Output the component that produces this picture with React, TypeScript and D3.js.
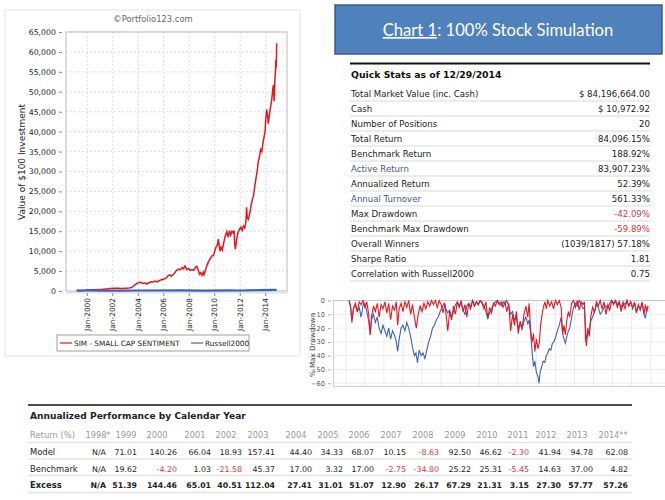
import { useEffect, useRef } from 'react';
import * as d3 from 'd3';

// growth of $100 – SIM - SMALL CAP SENTIMENT  [year, value]
const simSeries: [number, number][] = [
  [1999.17, 100], [1999.5, 130], [1999.8, 180], [2000.0, 230], [2000.3, 300], [2000.6, 320],
  [2000.9, 380], [2001.2, 420], [2001.5, 520], [2001.8, 620], [2002.1, 680], [2002.4, 720],
  [2002.7, 650], [2003.0, 700], [2003.3, 760], [2003.5, 900], [2003.7, 1400], [2003.9, 1900],
  [2004.0, 2100], [2004.2, 2200], [2004.35, 1900], [2004.5, 2050], [2004.66, 1750], [2004.8, 2000],
  [2005.0, 2300], [2005.18, 2250], [2005.3, 2500], [2005.5, 2300], [2005.7, 2700], [2005.97, 2950],
  [2006.2, 3300], [2006.35, 3900], [2006.5, 4000], [2006.6, 3700], [2006.8, 4300], [2007.0, 5200],
  [2007.15, 5500], [2007.3, 5300], [2007.45, 5900], [2007.55, 5600], [2007.67, 6300], [2007.8, 5400],
  [2007.95, 5600], [2008.06, 5200], [2008.2, 5400], [2008.35, 5200], [2008.5, 6000], [2008.6, 6200],
  [2008.7, 5300], [2008.8, 4200], [2008.9, 4600], [2009.0, 3900], [2009.1, 4700], [2009.16, 4100],
  [2009.3, 5500], [2009.4, 6500], [2009.5, 7300], [2009.6, 7800], [2009.75, 8700], [2009.9, 9000],
  [2010.0, 10000], [2010.1, 11000], [2010.2, 11500], [2010.28, 13000], [2010.35, 11500], [2010.42, 10000],
  [2010.5, 11000], [2010.6, 10300], [2010.7, 12000], [2010.8, 13500], [2010.94, 14900], [2011.05, 13500],
  [2011.15, 15100], [2011.25, 14000], [2011.35, 15000], [2011.46, 14600], [2011.52, 15200], [2011.57, 11500],
  [2011.62, 10500], [2011.7, 12500], [2011.78, 14000], [2011.85, 14900], [2011.95, 15500], [2012.05, 16000],
  [2012.15, 15200], [2012.25, 16300], [2012.35, 15800], [2012.45, 17500], [2012.5, 21000], [2012.55, 18500],
  [2012.64, 18000], [2012.75, 19500], [2012.85, 21500], [2012.95, 23000], [2013.05, 24000], [2013.15, 26500],
  [2013.25, 28500], [2013.35, 30500], [2013.42, 32500], [2013.5, 33500], [2013.6, 35500], [2013.69, 35000],
  [2013.8, 37500], [2013.95, 40000], [2014.0, 43000], [2014.08, 45500], [2014.15, 44000], [2014.2, 42000],
  [2014.3, 44500], [2014.4, 46500], [2014.47, 48000], [2014.55, 50500], [2014.6, 51700], [2014.66, 47600],
  [2014.72, 53000], [2014.77, 55500], [2014.8, 58000], [2014.83, 56000], [2014.86, 62200],
];

// growth of $100 – Russell2000
const benchSeries: [number, number][] = [
  [1999.17, 100], [2000.2, 125], [2001.0, 110], [2002.8, 70], [2004.0, 120], [2007.5, 150],
  [2009.2, 70], [2011.0, 140], [2012.0, 130], [2013.5, 210], [2014.86, 290],
];

// % max drawdown – model
const modelDD: [number, number][] = [
  [1999.17, 0], [1999.25, -4], [1999.32, -16], [1999.4, -6], [1999.5, -2], [1999.6, -8], [1999.7, -1],
  [1999.8, -3], [1999.9, 0], [2000.0, -5], [2000.1, -1], [2000.2, -10], [2000.28, -25], [2000.35, -12],
  [2000.45, -4], [2000.55, -8], [2000.65, -2], [2000.75, -12], [2000.85, -3], [2000.95, -6], [2001.05, -1],
  [2001.15, -9], [2001.25, -2], [2001.35, -14], [2001.45, -4], [2001.55, -7], [2001.65, -1], [2001.72, -18],
  [2001.8, -6], [2001.9, -2], [2002.0, -8], [2002.1, -1], [2002.2, -5], [2002.3, 0], [2002.4, -10],
  [2002.5, -3], [2002.6, -12], [2002.7, -20], [2002.8, -10], [2002.9, -4], [2003.0, -8], [2003.1, -2],
  [2003.2, -6], [2003.3, -1], [2003.4, -4], [2003.5, 0], [2003.6, -3], [2003.7, 0], [2003.8, -5],
  [2003.9, 0], [2004.0, -3], [2004.1, -9], [2004.2, -2], [2004.35, -22], [2004.45, -8], [2004.55, -14],
  [2004.65, -4], [2004.75, -10], [2004.85, -1], [2004.95, -5], [2005.05, 0], [2005.15, -8], [2005.25, -3],
  [2005.35, -12], [2005.45, -2], [2005.55, -6], [2005.65, 0], [2005.75, -4], [2005.85, -1], [2005.95, -3],
  [2006.05, 0], [2006.15, -2], [2006.25, -6], [2006.35, -1], [2006.45, -13], [2006.55, -5], [2006.65, -9],
  [2006.75, -2], [2006.85, -4], [2006.95, 0], [2007.05, -3], [2007.15, -1], [2007.25, -5], [2007.35, -1],
  [2007.45, -8], [2007.55, -2], [2007.65, -22], [2007.75, -10], [2007.85, -18], [2007.95, -8], [2008.05, -24],
  [2008.15, -15], [2008.25, -20], [2008.35, -10], [2008.45, -4], [2008.55, -12], [2008.62, -2], [2008.7, -22],
  [2008.78, -30], [2008.85, -24], [2008.92, -37], [2009.0, -28], [2009.08, -35], [2009.16, -30], [2009.22, -18],
  [2009.3, -10], [2009.38, -4], [2009.45, -1], [2009.52, -6], [2009.6, 0], [2009.7, -4], [2009.8, -1],
  [2009.9, -6], [2010.0, 0], [2010.1, -3], [2010.2, 0], [2010.3, -5], [2010.38, -24], [2010.45, -18],
  [2010.52, -25], [2010.6, -14], [2010.68, -8], [2010.75, -12], [2010.85, -2], [2010.95, 0], [2011.05, -5],
  [2011.15, 0], [2011.25, -7], [2011.35, -1], [2011.45, -3], [2011.52, -1], [2011.58, -28], [2011.63, -33],
  [2011.7, -20], [2011.78, -26], [2011.85, -12], [2011.95, -5], [2012.05, -9], [2012.15, -1], [2012.25, -4],
  [2012.35, 0], [2012.45, -6], [2012.55, -1], [2012.65, -10], [2012.75, -3], [2012.85, -7], [2012.95, 0],
  [2013.05, -3], [2013.15, 0], [2013.25, -5], [2013.35, -1], [2013.45, -8], [2013.55, -2], [2013.65, -6],
  [2013.75, 0], [2013.85, -4], [2013.95, -1], [2014.05, -6], [2014.15, -1], [2014.25, -9], [2014.35, -3],
  [2014.45, -7], [2014.55, -1], [2014.65, -10], [2014.72, -3], [2014.8, -8], [2014.86, -4],
];

// % max drawdown – benchmark
const benchDD: [number, number][] = [
  [1999.17, 0], [1999.25, -5], [1999.32, -14], [1999.4, -6], [1999.5, -3], [1999.6, -8], [1999.7, -5],
  [1999.8, -12], [1999.9, -4], [2000.0, -2], [2000.1, -8], [2000.2, -15], [2000.28, -24], [2000.35, -14],
  [2000.45, -10], [2000.55, -16], [2000.65, -12], [2000.75, -20], [2000.85, -24], [2000.95, -18], [2001.05, -22],
  [2001.15, -26], [2001.25, -20], [2001.35, -28], [2001.45, -22], [2001.55, -25], [2001.65, -30], [2001.72, -37],
  [2001.8, -28], [2001.9, -20], [2002.0, -18], [2002.1, -22], [2002.2, -16], [2002.3, -20], [2002.4, -26],
  [2002.5, -34], [2002.6, -40], [2002.68, -38], [2002.76, -45], [2002.85, -36], [2002.95, -40], [2003.05, -38],
  [2003.15, -42], [2003.25, -36], [2003.35, -30], [2003.45, -26], [2003.55, -20], [2003.65, -18], [2003.75, -14],
  [2003.85, -12], [2003.95, -8], [2004.05, -5], [2004.15, -2], [2004.25, -6], [2004.35, -9], [2004.45, -7],
  [2004.55, -12], [2004.65, -8], [2004.75, -3], [2004.85, -1], [2004.95, -4], [2005.05, -2], [2005.15, -7],
  [2005.25, -10], [2005.35, -4], [2005.45, -2], [2005.55, -5], [2005.65, 0], [2005.75, -4], [2005.85, -1],
  [2005.95, -3], [2006.05, 0], [2006.15, -1], [2006.25, -4], [2006.35, -8], [2006.45, -13], [2006.55, -9],
  [2006.65, -6], [2006.75, -3], [2006.85, -1], [2006.95, 0], [2007.05, -2], [2007.15, -4], [2007.25, -1],
  [2007.35, -3], [2007.45, 0], [2007.55, -4], [2007.65, -10], [2007.75, -8], [2007.85, -14], [2007.95, -12],
  [2008.05, -20], [2008.15, -17], [2008.25, -21], [2008.35, -15], [2008.45, -12], [2008.55, -17], [2008.62, -14],
  [2008.7, -24], [2008.78, -38], [2008.85, -48], [2008.92, -44], [2009.0, -52], [2009.08, -55], [2009.14, -60],
  [2009.2, -52], [2009.28, -48], [2009.36, -44], [2009.44, -45], [2009.52, -40], [2009.6, -38], [2009.68, -35],
  [2009.76, -36], [2009.84, -31], [2009.92, -30], [2010.0, -27], [2010.1, -22], [2010.2, -18], [2010.3, -12],
  [2010.38, -24], [2010.45, -28], [2010.52, -31], [2010.6, -26], [2010.68, -22], [2010.75, -20], [2010.85, -12],
  [2010.95, -5], [2011.05, -2], [2011.15, -4], [2011.25, 0], [2011.35, -3], [2011.45, -6], [2011.52, -5],
  [2011.58, -20], [2011.63, -28], [2011.7, -24], [2011.78, -22], [2011.85, -15], [2011.95, -12], [2012.05, -8],
  [2012.15, -3], [2012.25, -5], [2012.35, -10], [2012.45, -8], [2012.55, -5], [2012.65, -4], [2012.75, -6],
  [2012.85, -2], [2012.95, 0], [2013.05, -2], [2013.15, 0], [2013.25, -3], [2013.35, -1], [2013.45, -5],
  [2013.55, -1], [2013.65, -3], [2013.75, 0], [2013.85, -4], [2013.95, -1], [2014.05, -5], [2014.15, -2],
  [2014.25, -8], [2014.35, -4], [2014.45, -6], [2014.55, -2], [2014.65, -10], [2014.72, -13], [2014.8, -6],
  [2014.86, -4],
];

const xTickYears = [2000, 2002, 2004, 2006, 2008, 2010, 2012, 2014];

const statLabels = [
  'Total Market Value (inc. Cash)', 'Cash', 'Number of Positions', 'Total Return', 'Benchmark Return',
  'Active Return', 'Annualized Return', 'Annual Turnover', 'Max Drawdown', 'Benchmark Max Drawdown',
  'Overall Winners', 'Sharpe Ratio', 'Correlation with Russell2000',
];
const statValues = [
  '$ 84,196,664.00', '$ 10,972.92', '20', '84,096.15%', '188.92%', '83,907.23%', '52.39%', '561.33%',
  '-42.09%', '-59.89%', '(1039/1817) 57.18%', '1.81', '0.75',
];
const blueLabels = ['Active Return', 'Annual Turnover'];

const perfYears = ['1998*', '1999', '2000', '2001', '2002', '2003', '2004', '2005', '2006', '2007', '2008',
  '2009', '2010', '2011', '2012', '2013', '2014**'];
const modelReturns = [null, 71.01, 140.26, 66.04, 18.93, 157.41, 44.40, 34.33, 68.07, 10.15, -8.63, 92.50,
  46.62, -2.30, 41.94, 94.78, 62.08];
const benchReturns = [null, 19.62, -4.20, 1.03, -21.58, 45.37, 17.00, 3.32, 17.00, -2.75, -34.80, 25.22,
  25.31, -5.45, 14.63, 37.00, 4.82];
const excessReturns = [null, 51.39, 144.46, 65.01, 40.51, 112.04, 27.41, 31.01, 51.07, 12.90, 26.17, 67.29,
  21.31, 3.15, 27.30, 57.77, 57.26];

// table column layout (right edge of values, centre of headers)
const colRight = [106, 137, 177, 211, 242, 275, 312, 343, 374, 406, 439, 471, 502, 529, 561, 593, 628];
const colHead = [98, 126, 157, 195, 226, 258, 296, 328, 359, 391, 423, 455, 487, 518, 546, 577, 613];

const RED = '#e8161e';
const BLUE = '#3c62bd';
const NEG = '#d9363e';
const SANS = '"DejaVu Sans", Verdana, sans-serif';

export default function App() {
  const y1Ref = useRef<SVGGElement>(null);
  const y2Ref = useRef<SVGGElement>(null);

  const x1 = d3.scaleLinear().domain([1998.33, 2015.67]).range([66, 287]);
  const y1 = d3.scaleLinear().domain([0, 65000]).range([291, 32]);
  const x2 = d3.scaleLinear().domain([1998.38, 2015.75]).range([334, 665]);
  const y2 = d3.scaleLinear().domain([0, -62]).range([300.5, 386]);

  const line1 = d3.line<[number, number]>().x((d) => x1(d[0])).y((d) => y1(d[1]));
  const line2 = d3.line<[number, number]>().x((d) => x2(d[0])).y((d) => y2(d[1]));

  useEffect(() => {
    const g1 = d3.select(y1Ref.current);
    g1.selectAll('*').remove();
    g1.call(d3.axisLeft(y1).tickValues(d3.range(0, 65001, 5000)).tickFormat(d3.format(',')).tickSize(3));
    g1.select('.domain').remove();
    g1.selectAll('line').attr('stroke', '#888');
    g1.selectAll('text').attr('font-family', SANS).attr('font-size', 7.8).attr('fill', '#222');

    const g2 = d3.select(y2Ref.current);
    g2.selectAll('*').remove();
    g2.call(d3.axisLeft(y2).tickValues(d3.range(0, -61, -10)).tickSize(3));
    g2.select('.domain').remove();
    g2.selectAll('line').attr('stroke', '#aaa');
    g2.selectAll('text').attr('font-family', SANS).attr('font-size', 6.6).attr('fill', '#555');
  }, []);

  const fmt = (v: number | null) => (v === null ? 'N/A' : v.toFixed(2));

  return (
    <svg width={665} height={500} style={{ position: 'absolute', left: 0, top: 0, background: '#fff' }}>
      {/* left growth chart */}
      <rect x={5} y={10} width={295} height={346} fill="#fff" stroke="#e4e4e4" />
      <text x={153} y={22} textAnchor="middle" fontFamily={SANS} fontSize={8.4} fill="#666">
        ©Portfolio123.com
      </text>
      <g>
        {y1.ticks(13).map((t) => (
          <line key={'h' + t} x1={66} x2={287} y1={y1(t)} y2={y1(t)} stroke="#dcdcdc" strokeDasharray="2,2" />
        ))}
        {xTickYears.map((t) => (
          <line key={'v' + t} x1={x1(t)} x2={x1(t)} y1={32} y2={291} stroke="#dcdcdc" strokeDasharray="2,2" />
        ))}
      </g>
      <rect x={66} y={32} width={221} height={259} fill="none" stroke="#bcbcbc" />
      <line x1={66} x2={288} y1={292.5} y2={292.5} stroke="#e2e2e2" strokeWidth={2} />
      <path d={line1(simSeries) ?? ''} fill="none" stroke={RED} strokeWidth={1.5} />
      <path d={line1(benchSeries) ?? ''} fill="none" stroke={BLUE} strokeWidth={2.2} />
      <g ref={y1Ref} transform="translate(62,0)" />
      {xTickYears.map((t) => (
        <g key={'xl' + t}>
          <line x1={x1(t)} x2={x1(t)} y1={293} y2={296} stroke="#888" />
          <text
            transform={`translate(${x1(t) + 2.5},298) rotate(-90)`}
            textAnchor="end"
            fontFamily={SANS}
            fontSize={7.4}
            fill="#222"
          >
            {'Jan-' + t}
          </text>
        </g>
      ))}
      <text
        transform="translate(25,162) rotate(-90)"
        textAnchor="middle"
        fontFamily={SANS}
        fontSize={9}
        fill="#222"
      >
        Value of $100 Investment
      </text>
      <rect x={57} y={335} width={192} height={16} fill="#fff" stroke="#888" strokeWidth={0.8} />
      <line x1={60} x2={72} y1={343} y2={343} stroke={RED} strokeWidth={1.2} />
      <text x={74} y={346} fontFamily={SANS} fontSize={7.3} fill="#222">SIM - SMALL CAP SENTIMENT</text>
      <line x1={191} x2={203} y1={343} y2={343} stroke={BLUE} strokeWidth={1.2} />
      <text x={205} y={346} fontFamily={SANS} fontSize={7.3} fill="#222">Russell2000</text>

      {/* title box */}
      <rect x={335} y={5} width={327} height={49} fill="#4f81bd" stroke="#385d8a" strokeWidth={1.5} />
      <text x={498} y={36} textAnchor="middle" fontFamily="Lato, 'Open Sans', sans-serif" fontSize={16.6} fill="#fff">
        <tspan textDecoration="underline">Chart 1</tspan>: 100% Stock Simulation
      </text>

      {/* quick stats */}
      <line x1={350} x2={650} y1={63.5} y2={63.5} stroke="#111" strokeWidth={2} />
      <text x={351} y={78} fontFamily={SANS} fontWeight="bold" fontSize={9.3} fill="#111">
        Quick Stats as of 12/29/2014
      </text>
      {statLabels.map((lab, i) => {
        const yy = 97 + i * 15;
        const val = statValues[i];
        return (
          <g key={lab}>
            <line x1={350} x2={650} y1={yy + 4} y2={yy + 4} stroke="#e6e6e6" strokeWidth={1.5} />
            <text x={351} y={yy} fontFamily={SANS} fontSize={8.6} fill={blueLabels.includes(lab) ? '#4a5580' : '#222'}>
              {lab}
            </text>
            <text x={650} y={yy} textAnchor="end" fontFamily={SANS} fontSize={8.6} fill={val.startsWith('-') ? NEG : '#222'}>
              {val}
            </text>
          </g>
        );
      })}

      {/* drawdown chart */}
      <g>
        {y2.ticks(7).map((t) => (
          <line key={'dh' + t} x1={334} x2={665} y1={y2(t)} y2={y2(t)} stroke="#ececec" />
        ))}
        {d3.range(1999, 2016).map((t) => (
          <line key={'dv' + t} x1={x2(t)} x2={x2(t)} y1={300} y2={386} stroke="#ececec" />
        ))}
      </g>
      <line x1={334} x2={665} y1={300.5} y2={300.5} stroke="#c8c8c8" />
      <line x1={334} x2={665} y1={386.5} y2={386.5} stroke="#d0d0d0" />
      <line x1={333.5} x2={333.5} y1={300} y2={387} stroke="#d0d0d0" />
      <path d={line2(benchDD) ?? ''} fill="none" stroke={BLUE} strokeWidth={1.1} />
      <path d={line2(modelDD) ?? ''} fill="none" stroke={RED} strokeWidth={1.1} />
      <g ref={y2Ref} transform="translate(331,0)" />
      <text
        transform="translate(315,345) rotate(-90)"
        textAnchor="middle"
        fontFamily={SANS}
        fontSize={7.2}
        fill="#444"
      >
        % Max Drawdown
      </text>

      {/* annualized performance table */}
      <line x1={28} x2={632} y1={405} y2={405} stroke="#111" strokeWidth={1.5} />
      <text x={30} y={419} fontFamily={SANS} fontWeight="bold" fontSize={9.1} fill="#222">
        Annualized Performance by Calendar Year
      </text>
      <text x={30} y={438} fontFamily={SANS} fontSize={8.4} fill="#999">Return (%)</text>
      {perfYears.map((yr, i) => (
        <text key={yr} x={colHead[i]} y={438} textAnchor="middle" fontFamily={SANS} fontSize={8.2} fill="#999">
          {yr}
        </text>
      ))}
      {[
        { name: 'Model', vals: modelReturns, y: 455, bold: false },
        { name: 'Benchmark', vals: benchReturns, y: 471.5, bold: false },
        { name: 'Excess', vals: excessReturns, y: 488, bold: true },
      ].map((row) => (
        <g key={row.name}>
          <line x1={28} x2={632} y1={row.y - 12.5} y2={row.y - 12.5} stroke="#e4e4e4" strokeWidth={1.5} />
          <text x={30} y={row.y} fontFamily={SANS} fontSize={8.4} fontWeight={row.bold ? 'bold' : 'normal'} fill="#222">
            {row.name}
          </text>
          {row.vals.map((v, i) => (
            <text
              key={i}
              x={colRight[i]}
              y={row.y}
              textAnchor="end"
              fontFamily={SANS}
              fontSize={row.bold ? 7.8 : 7.9}
              fontWeight={row.bold ? 'bold' : 'normal'}
              fill={v !== null && v < 0 ? NEG : '#222'}
            >
              {fmt(v)}
            </text>
          ))}
        </g>
      ))}
      <line x1={28} x2={632} y1={492.5} y2={492.5} stroke="#e4e4e4" strokeWidth={1.5} />
    </svg>
  );
}
